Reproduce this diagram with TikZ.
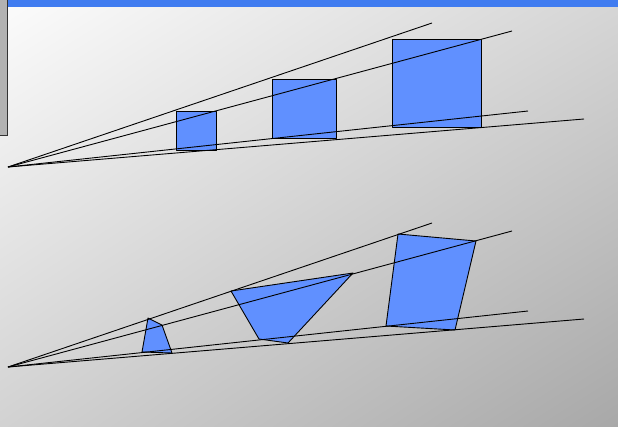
\documentclass[tikz,border=0pt]{standalone}
\usetikzlibrary{calc,shadings}
\definecolor{barblue}{RGB}{64,124,240}
\definecolor{fillblue}{RGB}{96,144,255}
\definecolor{bgTL}{RGB}{252,252,252}
\definecolor{bgTR}{RGB}{214,214,214}
\definecolor{bgBL}{RGB}{210,210,210}
\definecolor{bgBR}{RGB}{168,168,168}
\definecolor{boxgray}{RGB}{178,178,178}
\tikzset{
  ray/.style={black, line width=0.9pt},
  shapebox/.style={draw=black, fill=fillblue, line width=0.9pt, line join=round},
}
\begin{document}
\begin{tikzpicture}[x=1pt,y=-1pt]
\useasboundingbox (0,0) rectangle (618,426);
\shade[upper left=bgTL, upper right=bgTR, lower left=bgBL, lower right=bgBR] (0,0) rectangle (618,426);
\fill[barblue] (8,0) rectangle (618,6.5);
\draw[fill=boxgray, draw=black!80, line width=1pt] (-2,-2) rectangle (7.5,135);
% top group
\coordinate (A) at (8,167);
\coordinate (t1) at (432,23);
\coordinate (t2) at (512,31);
\coordinate (t3) at (528,111);
\coordinate (t4) at (584,119);
\draw[shapebox] (176,111) rectangle (216,150);
\draw[shapebox] (272,79) rectangle (336,138);
\draw[shapebox] (392,39) rectangle (481,127);
\foreach \e in {t1,t2,t3,t4} \draw[ray] (A) -- (\e);
% bottom group
\coordinate (B) at (8,367);
\coordinate (b1) at (432,223);
\coordinate (b2) at (512,231);
\coordinate (b3) at (528,311);
\coordinate (b4) at (584,319);
\draw[shapebox] (148,318) -- (162,325) -- (172,353) -- (142,352) -- cycle;
\draw[shapebox] (231,291) -- (353,273) -- (288,343) -- (259,339) -- cycle;
\draw[shapebox] (398,234) -- (476,241) -- (455,330) -- (386,326) -- cycle;
\foreach \e in {b1,b2,b3,b4} \draw[ray] (B) -- (\e);
\end{tikzpicture}
\end{document}
